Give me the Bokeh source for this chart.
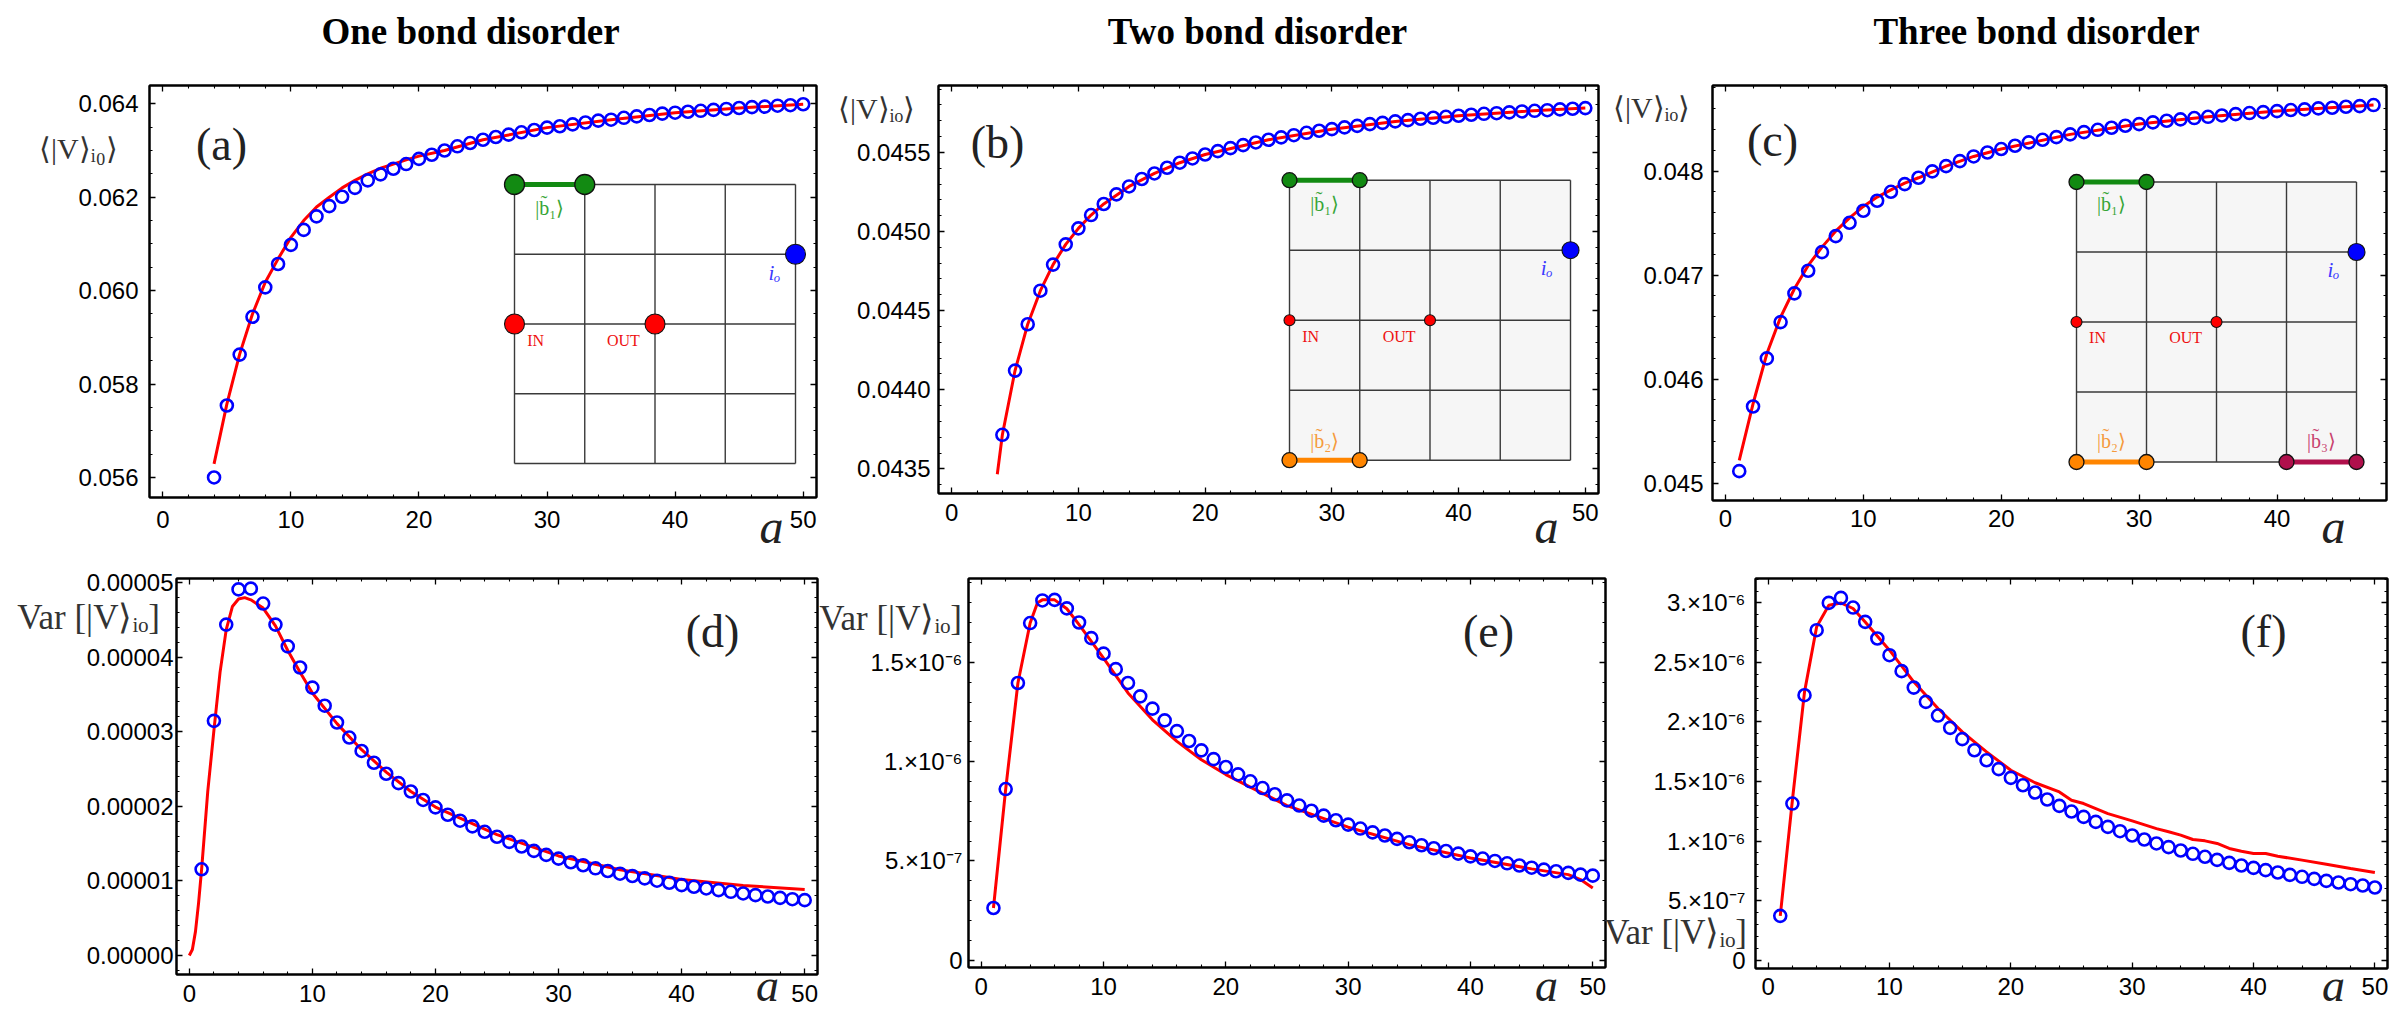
import numpy as np
from bokeh.plotting import figure
from bokeh.models import (Range1d, LinearAxis, FixedTicker, Label, PrintfTickFormatter,
                          CustomJSTickFormatter, GridBox)
from bokeh.layouts import row, column
from bokeh.embed import file_html
from bokeh.resources import INLINE

# ---------------------------------------------------------------- data
titles = ["One bond disorder", "Two bond disorder", "Three bond disorder"]

# (a) one bond disorder, mean
a_a = list(range(4, 51))
mean_a = [0.0560, 0.05754, 0.05863, 0.05944, 0.06007, 0.06057, 0.06098, 0.0613, 0.06159, 0.06181,
          0.06201, 0.0622, 0.06236, 0.06249, 0.06261, 0.06271, 0.06282, 0.06291, 0.0630, 0.06309,
          0.06316, 0.06323, 0.06329, 0.06334, 0.06339, 0.06344, 0.06349, 0.06352, 0.06356, 0.0636,
          0.06364, 0.06366, 0.0637, 0.06373, 0.06376, 0.06379, 0.06381, 0.06383, 0.06385, 0.06387,
          0.06389, 0.06391, 0.06393, 0.06394, 0.06396, 0.06397, 0.06399]
fit_a_x = [4, 5, 6, 7, 8, 9, 10, 11, 12, 13, 14, 15, 16, 17, 18, 19, 20, 22, 25, 30, 35, 40, 45, 50]
fit_a_y = [0.05629, 0.05757, 0.05864, 0.0595, 0.06018, 0.06068, 0.06114, 0.0615, 0.06179, 0.0620,
           0.0622, 0.06236, 0.0625, 0.06262, 0.06271, 0.0628, 0.06288, 0.0630, 0.06323, 0.06349,
           0.06366, 0.06381, 0.06391, 0.06399]

# (b) two bond disorder, mean
a_b = list(range(4, 51))
mean_b = [0.043715, 0.044121, 0.044414, 0.044626, 0.044791, 0.044919, 0.04502, 0.045104, 0.045174, 0.045235,
          0.045285, 0.045332, 0.045367, 0.045403, 0.045435, 0.045462, 0.045487, 0.045508, 0.045527, 0.045546,
          0.045563, 0.04558, 0.045595, 0.045609, 0.045624, 0.045637, 0.045647, 0.045658, 0.045668, 0.045679,
          0.045687, 0.045696, 0.045704, 0.045713, 0.045719, 0.045725, 0.045732, 0.045738, 0.045744, 0.045748,
          0.045753, 0.045759, 0.045763, 0.045767, 0.045772, 0.045776, 0.04578]
fit_b_x = [3.6, 4, 5, 6, 7, 8, 9, 10, 11, 12, 14, 16, 18, 20, 25, 30, 35, 40, 45, 50]
fit_b_y = [0.043466, 0.043715, 0.044121, 0.044414, 0.044626, 0.044791, 0.044919, 0.04502, 0.045104, 0.045174,
           0.045285, 0.045367, 0.045435, 0.045487, 0.04558, 0.045647, 0.045696, 0.045732, 0.045759, 0.04578]

# (c) three bond disorder, mean
a_c = list(range(1, 48))
mean_c = [0.045115, 0.045737, 0.046199, 0.046548, 0.046824, 0.047042, 0.047221, 0.047375, 0.047503, 0.047619,
          0.047715, 0.047801, 0.047875, 0.047936, 0.047997, 0.048048, 0.048096, 0.048141, 0.048179, 0.048212,
          0.048244, 0.048276, 0.048301, 0.048327, 0.048353, 0.048375, 0.048397, 0.048417, 0.048436, 0.048452,
          0.048468, 0.048484, 0.048497, 0.04851, 0.048522, 0.048535, 0.048548, 0.048558, 0.048567, 0.048577,
          0.048587, 0.048593, 0.048603, 0.048609, 0.048619, 0.048625, 0.048635]
fit_c_x = [1, 2, 3, 4, 5, 6, 7, 8, 9, 10, 11, 12, 13, 14, 16, 18, 20, 25, 30, 35, 40, 47]
fit_c_y = [0.045218, 0.045763, 0.046244, 0.046596, 0.046869, 0.047093, 0.047269, 0.047423, 0.047551, 0.04766,
           0.04775, 0.04782, 0.047885, 0.047936, 0.048048, 0.048141, 0.048212, 0.048353, 0.048452, 0.048522,
           0.048577, 0.048635]

# (d) one bond disorder, variance
a_d = list(range(1, 51))
var_d = [1.156e-5, 3.147e-5, 4.438e-5, 4.91e-5, 4.92e-5, 4.72e-5, 4.438e-5, 4.146e-5, 3.862e-5, 3.593e-5,
         3.35e-5, 3.125e-5, 2.923e-5, 2.743e-5, 2.585e-5, 2.437e-5, 2.311e-5, 2.199e-5, 2.086e-5, 1.987e-5,
         1.888e-5, 1.808e-5, 1.731e-5, 1.659e-5, 1.592e-5, 1.524e-5, 1.461e-5, 1.403e-5, 1.349e-5, 1.299e-5,
         1.25e-5, 1.21e-5, 1.169e-5, 1.133e-5, 1.097e-5, 1.066e-5, 1.034e-5, 1.003e-5, 0.976e-5, 0.944e-5,
         0.922e-5, 0.899e-5, 0.877e-5, 0.854e-5, 0.832e-5, 0.809e-5, 0.791e-5, 0.773e-5, 0.755e-5, 0.742e-5]
fit_d_x = [0, 0.25, 0.5, 0.75, 1, 1.5, 2, 2.5, 3, 3.5, 4, 4.5, 5, 6, 7, 8, 9, 10, 12, 14, 16, 18, 20,
           25, 30, 35, 40, 45, 50]
fit_d_y = [0.0, 0.08e-5, 0.32e-5, 0.7e-5, 1.156e-5, 2.2e-5, 3.02e-5, 3.8e-5, 4.37e-5, 4.68e-5, 4.78e-5,
           4.80e-5, 4.77e-5, 4.66e-5, 4.42e-5, 4.09e-5, 3.80e-5, 3.52e-5, 3.11e-5, 2.76e-5, 2.46e-5, 2.20e-5,
           1.99e-5, 1.62e-5, 1.335e-5, 1.15e-5, 1.02e-5, 0.94e-5, 0.886e-5]

# (e) two bond disorder, variance
a_e = list(range(1, 51))
var_e = [0.263e-6, 0.862e-6, 1.396e-6, 1.698e-6, 1.812e-6, 1.815e-6, 1.772e-6, 1.701e-6, 1.622e-6, 1.544e-6,
         1.466e-6, 1.396e-6, 1.329e-6, 1.267e-6, 1.208e-6, 1.154e-6, 1.104e-6, 1.057e-6, 1.013e-6, 0.973e-6,
         0.936e-6, 0.901e-6, 0.867e-6, 0.836e-6, 0.805e-6, 0.779e-6, 0.753e-6, 0.728e-6, 0.705e-6, 0.683e-6,
         0.663e-6, 0.644e-6, 0.628e-6, 0.611e-6, 0.594e-6, 0.579e-6, 0.564e-6, 0.550e-6, 0.537e-6, 0.523e-6,
         0.512e-6, 0.500e-6, 0.488e-6, 0.477e-6, 0.466e-6, 0.456e-6, 0.448e-6, 0.440e-6, 0.431e-6, 0.426e-6]
fit_e_x = [1, 2, 3, 4, 4.6, 5, 6, 7, 8, 10, 12, 14, 16, 18, 20, 22, 25, 30, 35, 40, 45, 48, 49, 50]
fit_e_y = [0.263e-6, 0.862e-6, 1.396e-6, 1.698e-6, 1.80e-6, 1.815e-6, 1.815e-6, 1.77e-6, 1.69e-6, 1.522e-6,
           1.346e-6, 1.211e-6, 1.102e-6, 1.01e-6, 0.935e-6, 0.872e-6, 0.779e-6, 0.67e-6, 0.582e-6, 0.515e-6,
           0.46e-6, 0.431e-6, 0.406e-6, 0.364e-6]

# (f) three bond disorder, variance
a_f = list(range(1, 51))
var_f = [0.372e-6, 1.315e-6, 2.225e-6, 2.771e-6, 3.0e-6, 3.042e-6, 2.961e-6, 2.841e-6, 2.701e-6, 2.561e-6,
         2.427e-6, 2.289e-6, 2.169e-6, 2.054e-6, 1.951e-6, 1.856e-6, 1.763e-6, 1.679e-6, 1.604e-6, 1.531e-6,
         1.469e-6, 1.408e-6, 1.349e-6, 1.296e-6, 1.248e-6, 1.203e-6, 1.161e-6, 1.119e-6, 1.083e-6, 1.047e-6,
         1.013e-6, 0.98e-6, 0.949e-6, 0.921e-6, 0.893e-6, 0.868e-6, 0.842e-6, 0.817e-6, 0.795e-6, 0.775e-6,
         0.756e-6, 0.736e-6, 0.716e-6, 0.70e-6, 0.683e-6, 0.666e-6, 0.652e-6, 0.638e-6, 0.627e-6, 0.61e-6]
fit_f_x = [1, 2, 3, 4, 5, 6, 7, 8, 10, 12, 14, 16, 18, 20, 22, 24, 25, 26, 28, 30, 32, 33, 34, 35, 36, 37,
           38, 39, 40, 41, 42, 44, 46, 48, 50]
fit_f_y = [0.372e-6, 1.343e-6, 2.253e-6, 2.8e-6, 2.98e-6, 3.0e-6, 2.953e-6, 2.84e-6, 2.603e-6, 2.337e-6,
           2.113e-6, 1.917e-6, 1.749e-6, 1.595e-6, 1.49e-6, 1.413e-6, 1.343e-6, 1.315e-6, 1.231e-6, 1.17e-6,
           1.105e-6, 1.078e-6, 1.05e-6, 1.013e-6, 1.002e-6, 0.98e-6, 0.938e-6, 0.915e-6, 0.896e-6, 0.896e-6,
           0.873e-6, 0.84e-6, 0.806e-6, 0.77e-6, 0.736e-6]

# tick values and labels
x_ticks = [0, 10, 20, 30, 40, 50]
y_ticks_a = [0.056, 0.058, 0.060, 0.062, 0.064]
y_ticks_b = [0.0435, 0.0440, 0.0445, 0.0450, 0.0455]
y_ticks_c = [0.045, 0.046, 0.047, 0.048]
y_ticks_d = [0.0, 0.00001, 0.00002, 0.00003, 0.00004, 0.00005]
y_ticks_e = [0.0, 5e-7, 1e-6, 1.5e-6]
y_labels_e = ["0", "5.\u00d710\u207b\u2077", "1.\u00d710\u207b\u2076", "1.5\u00d710\u207b\u2076"]
y_ticks_f = [0.0, 5e-7, 1e-6, 1.5e-6, 2e-6, 2.5e-6, 3e-6]
y_labels_f = ["0", "5.\u00d710\u207b\u2077", "1.\u00d710\u207b\u2076", "1.5\u00d710\u207b\u2076",
              "2.\u00d710\u207b\u2076", "2.5\u00d710\u207b\u2076", "3.\u00d710\u207b\u2076"]

# inset lattice (4 x 4 cells), sites as (column, row from top)
n_cells = 4
site_in, site_out, site_io = (0, 2), (2, 2), (4, 1)
bond_1 = ((0, 0), (1, 0))
bond_2 = ((0, 4), (1, 4))
bond_3 = ((3, 4), (4, 4))
b1_lab = "|b\u0303\u2081\u27e9"
b2_lab = "|b\u0303\u2082\u27e9"
b3_lab = "|b\u0303\u2083\u27e9"

# ---------------------------------------------------------------- helpers
SERIF = "Liberation Serif"
SANS = "Liberation Sans"
PAGE_W, PAGE_H = 2388, 1005
MARGIN = 8


def minor_list(lo, hi, step, majors):
    vals = np.arange(lo, hi + step / 2, step)
    return [float(v) for v in vals if min(abs(v - m) for m in majors) > step / 10]


def make_fig(box, xr, yr, bl, br, bt, bb):
    fl, ft, fr, fb = box
    p = figure(frame_width=fr - fl, frame_height=fb - ft,
               min_border_left=bl, min_border_right=br, min_border_top=bt, min_border_bottom=bb,
               x_range=Range1d(*xr), y_range=Range1d(*yr),
               x_axis_location=None, y_axis_location=None,
               output_backend="svg", toolbar_location=None)
    p.background_fill_color = "white"
    p.border_fill_color = "white"
    p.outline_line_color = "black"
    p.outline_line_width = 2
    p.grid.visible = False
    return p


def add_axes(p, xt, xmin, yt, ymin, xfmt, yfmt, xstand, ystand):
    for side in ("below", "left", "above", "right"):
        horiz = side in ("below", "above")
        ax = LinearAxis(ticker=FixedTicker(ticks=xt if horiz else yt, minor_ticks=xmin if horiz else ymin))
        ax.axis_line_color = "black"
        ax.axis_line_width = 2
        ax.major_tick_in = 6
        ax.major_tick_out = 0
        ax.minor_tick_in = 3
        ax.minor_tick_out = 0
        ax.major_tick_line_color = "black"
        ax.major_tick_line_width = 1.3
        ax.minor_tick_line_color = "black"
        ax.minor_tick_line_width = 1.1
        if side in ("below", "left"):
            ax.formatter = xfmt if horiz else yfmt
            ax.major_label_text_font = SANS
            ax.major_label_text_font_size = "24px"
            ax.major_label_text_color = "black"
            ax.major_label_standoff = xstand if horiz else ystand
        else:
            ax.formatter = CustomJSTickFormatter(code="return ''")
            ax.major_label_text_font_size = "0px"
            ax.major_label_standoff = 0
        p.add_layout(ax, side)


def sci_formatter(vals, labs):
    return CustomJSTickFormatter(args=dict(vals=vals, labs=labs), code="""
        for (let i = 0; i < vals.length; i++) {
            if (Math.abs(vals[i] - tick) < 1e-12) { return labs[i]; }
        }
        return '';
    """)


def add_inset(p, box, g0x, g0y, cx, cy, shaded, bonds, node_sz, port_sz, io_sz, lab_pos):
    fl, ft, fr, fb = box
    p.extra_x_ranges["lx"] = Range1d((fl - g0x) / cx, (fr - g0x) / cx)
    p.extra_y_ranges["ly"] = Range1d((fb - g0y) / cy, (ft - g0y) / cy)
    kw = dict(x_range_name="lx", y_range_name="ly")
    if shaded:
        p.quad(left=0, right=n_cells, top=0, bottom=n_cells, fill_color="#f6f6f6", line_color=None, **kw)
    xs, ys = [], []
    for k in range(n_cells + 1):
        xs.append([0, n_cells]); ys.append([k, k])
        xs.append([k, k]); ys.append([0, n_cells])
    p.multi_line(xs, ys, line_color="#3a3a3a", line_width=1.4, **kw)
    for (s0, s1), col, txt, dy, tcol in bonds:
        p.line([s0[0], s1[0]], [s0[1], s1[1]], line_color=col, line_width=5, **kw)
        p.scatter([s0[0], s1[0]], [s0[1], s1[1]], marker="circle", size=node_sz, fill_color=col,
                  line_color="#111111", line_width=1.3, **kw)
    p.scatter([site_in[0], site_out[0]], [site_in[1], site_out[1]], marker="circle", size=port_sz,
              fill_color="#ff0000", line_color="#111111", line_width=1.1, **kw)
    p.scatter([site_io[0]], [site_io[1]], marker="circle", size=io_sz, fill_color="#0000ff",
              line_color="#111111", line_width=1.1, **kw)
    for (s0, s1), col, txt, dy, tcol in bonds:
        p.add_layout(Label(x=(s0[0] + s1[0]) / 2, y=s0[1] + dy,
                           text=txt, text_color=tcol, text_font=SERIF, text_font_size="20px",
                           text_align="center", text_baseline="middle", **kw))
    (inx, iny), (outx, outy), (iox, ioy) = lab_pos
    p.add_layout(Label(x=inx, y=iny, text="IN", text_color="#ee1111", text_font=SERIF,
                       text_font_size="16px", text_align="center", text_baseline="middle", **kw))
    p.add_layout(Label(x=outx, y=outy, text="OUT", text_color="#ee1111", text_font=SERIF,
                       text_font_size="16px", text_align="center", text_baseline="middle", **kw))
    p.add_layout(Label(x=iox, y=ioy, text="i\u2092", text_color="#3b3bff", text_font=SERIF,
                       text_font_style="italic", text_font_size="21px", text_align="center",
                       text_baseline="middle", **kw))


def add_data(p, ax, ay, fx, fy):
    p.line(fx, fy, line_color="#ff0000", line_width=3)
    p.scatter(ax, ay, marker="circle", size=12, fill_color=None, line_color="#0000ff", line_width=2.6)


# transparent overlay that carries the free-standing texts (page coordinates)
ov = figure(width=PAGE_W, height=PAGE_H, min_border=0, x_range=Range1d(0, PAGE_W),
            y_range=Range1d(PAGE_H, 0), x_axis_location=None, y_axis_location=None,
            output_backend="svg", toolbar_location=None)
ov.outline_line_color = None
ov.background_fill_color = None
ov.border_fill_color = None
ov.grid.visible = False


def put(px, py, text, **kw):
    kw.setdefault("text_align", "center")
    kw.setdefault("text_baseline", "middle")
    ov.add_layout(Label(x=px - MARGIN, y=py - MARGIN, text=text, **kw))


GREEN, ORANGE, CRIMSON = "#128a12", "#ff8500", "#b0104c"
GREEN_T, ORANGE_T, CRIMSON_T = "#36a536", "#f59a3c", "#c8426e"

mean_lab_0 = "\u27e8|V\u27e9\u1d62\u2080\u27e9"
mean_lab_o = "\u27e8|V\u27e9\u1d62\u2092\u27e9"
var_lab = "Var [|V\u27e9\u1d62\u2092]"

xfmt = PrintfTickFormatter(format="%d")
xr_std = (-1.04, 51.04)
minor_x = minor_list(0, 50, 2, x_ticks)

lbl_style = dict(text_font=SERIF, text_font_size="30px", text_color="#333333")
var_style = dict(text_font=SERIF, text_font_size="35px", text_color="#333333")
pan_style = dict(text_font=SERIF, text_font_size="46px", text_color="#222222")
a_style = dict(text_font=SERIF, text_font_size="48px", text_font_style="italic", text_color="#222222")
a_style_low = dict(text_font=SERIF, text_font_size="46px", text_font_style="italic", text_color="#222222")
ttl_style = dict(text_font=SERIF, text_font_size="37px", text_font_style="bold", text_color="black")

# ---------------------------------------------------------------- (a)
box_a = (149, 85, 816, 497)
pa = make_fig(box_a, xr_std, (0.055571, 0.064392), 141, 14, 77, 71)
add_axes(pa, x_ticks, minor_x, y_ticks_a, minor_list(0.0555, 0.0645, 0.0005, y_ticks_a),
         xfmt, PrintfTickFormatter(format="%.3f"), 13, 11)
add_inset(pa, box_a, 514, 184, 70.25, 69.75, False,
          [(bond_1, GREEN, b1_lab, 0.33, GREEN_T)], 20, 20, 20,
          [(0.3, 2.24), (1.55, 2.24), (3.7, 1.27)])
add_data(pa, a_a, mean_a, fit_a_x, fit_a_y)
put(470, 31, titles[0], **ttl_style)
put(78, 148, mean_lab_0, **lbl_style)
put(221, 144, "(a)", **pan_style)
put(771, 526, "a", **a_style)

# ---------------------------------------------------------------- (b)
box_b = (938, 84, 1598, 492)
pb = make_fig(box_b, xr_std, (0.043344, 0.045923), 108, 8, 76, 76)
add_axes(pb, x_ticks, minor_x, y_ticks_b, minor_list(0.0433, 0.0460, 0.0001, y_ticks_b),
         xfmt, PrintfTickFormatter(format="%.4f"), 10, 8)
add_inset(pb, box_b, 1289, 178.7, 70.25, 70, True,
          [(bond_1, GREEN, b1_lab, 0.34, GREEN_T), (bond_2, ORANGE, b2_lab, -0.28, ORANGE_T)], 15, 11, 17,
          [(0.3, 2.23), (1.56, 2.23), (3.66, 1.25)])
add_data(pb, a_b, mean_b, fit_b_x, fit_b_y)
put(1257, 31, titles[1], **ttl_style)
put(876, 108, mean_lab_o, **lbl_style)
put(997, 142, "(b)", **pan_style)
put(1546, 526, "a", **a_style)

# ---------------------------------------------------------------- (c)
box_c = (1712, 82, 2386, 497)
pc = make_fig(box_c, (-0.94, 47.94), (0.044833, 0.048823), 106, 10, 74, 71)
add_axes(pc, [0, 10, 20, 30, 40], minor_list(0, 46, 2, x_ticks), y_ticks_c,
         minor_list(0.0448, 0.0488, 0.0002, y_ticks_c), xfmt, PrintfTickFormatter(format="%.3f"), 9, 9)
add_inset(pc, box_c, 2076, 178.5, 70, 70, True,
          [(bond_1, GREEN, b1_lab, 0.31, GREEN_T), (bond_2, ORANGE, b2_lab, -0.3, ORANGE_T),
           (bond_3, CRIMSON, b3_lab, -0.3, CRIMSON_T)], 15, 11, 17,
          [(0.3, 2.22), (1.56, 2.22), (3.67, 1.25)])
add_data(pc, a_c, mean_c, fit_c_x, fit_c_y)
put(2036, 31, titles[2], **ttl_style)
put(1651, 107, mean_lab_o, **lbl_style)
put(1772, 140, "(c)", **pan_style)
put(2333, 526, "a", **a_style)

# ---------------------------------------------------------------- (d)
box_d = (176, 578, 817, 974)
pd_ = make_fig(box_d, xr_std, (-0.255e-5, 5.056e-5), 168, 4, 10, 39)
add_axes(pd_, x_ticks, minor_x, y_ticks_d, minor_list(-0.000002, 0.00005, 0.000002, y_ticks_d),
         xfmt, PrintfTickFormatter(format="%.5f"), 10, 3)
add_data(pd_, a_d, var_d, fit_d_x, fit_d_y)
put(88, 617, var_lab, **var_style)
put(712, 631, "(d)", **pan_style)
put(767, 985, "a", **a_style_low)

# ---------------------------------------------------------------- (e)
box_e = (968, 575, 1605, 964)
pe = make_fig(box_e, xr_std, (-0.0367e-6, 1.9225e-6), 147, 6, 7, 49)
add_axes(pe, x_ticks, minor_x, y_ticks_e, minor_list(0, 1.9e-6, 1e-7, y_ticks_e),
         xfmt, sci_formatter(y_ticks_e, y_labels_e), 10, 6)
add_data(pe, a_e, var_e, fit_e_x, fit_e_y)
put(890, 618, var_lab, **var_style)
put(1488, 631, "(e)", **pan_style)
put(1546, 985, "a", **a_style_low)

# ---------------------------------------------------------------- (f)
box_f = (1755, 575, 2387, 965)
pf = make_fig(box_f, xr_std, (-0.07e-6, 3.205e-6), 144, 9, 7, 48)
add_axes(pf, x_ticks, minor_x, y_ticks_f, minor_list(0, 3.2e-6, 1e-7, y_ticks_f),
         xfmt, sci_formatter(y_ticks_f, y_labels_f), 9, 10)
add_data(pf, a_f, var_f, fit_f_x, fit_f_y)
put(1675, 932, var_lab, **var_style)
put(2263, 631, "(f)", **pan_style)
put(2333, 985, "a", **a_style_low)

panels = column(row(pa, pb, pc), row(pd_, pe, pf))
layout = GridBox(children=[(panels, 0, 0), (ov, 0, 0)], margin=(MARGIN, 0, 0, MARGIN))
open("out.html", "w").write(file_html(layout, INLINE))
